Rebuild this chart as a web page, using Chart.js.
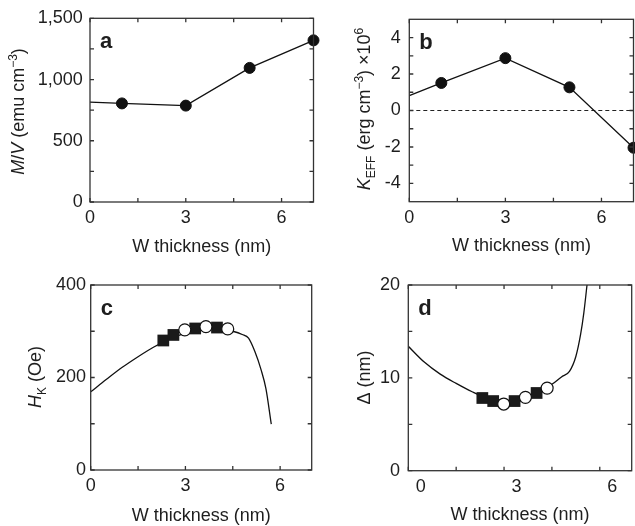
<!DOCTYPE html>
<html>
<head>
<meta charset="utf-8">
<script src="https://cdn.jsdelivr.net/npm/chart.js@4.4.1/dist/chart.umd.min.js"></script>
<style>
  html, body { margin: 0; padding: 0; background: #fff; width: 635px; height: 526px; overflow: hidden; position: relative; }
  canvas { position: absolute; }
</style>
</head>
<body>
<canvas id="panelA" width="320" height="265" style="left:0;top:0"></canvas>
<canvas id="panelB" width="320" height="265" style="left:320px;top:0"></canvas>
<canvas id="panelC" width="320" height="265" style="left:0;top:265px"></canvas>
<canvas id="panelD" width="320" height="265" style="left:320px;top:265px"></canvas>
<script>
// --- data ---
const thicknessA = [0, 1, 3, 5, 7];
const magnetization = [815, 805, 787, 1095, 1320];

const thicknessB = [0, 1, 3, 5, 7];
const anisotropy = [0.82, 1.51, 2.87, 1.27, -2.04];
const zeroLineX = [0, 7];
const zeroLineY = [0, 0];

const hkSquareX = [2.30, 2.62, 3.31, 4.00];
const hkSquare = [280, 292, 306, 308];
const hkCircleX = [2.98, 3.65, 4.34];
const hkCircle = [303, 310, 305];
const hkFitX = [0, 0.5, 1, 1.5, 2, 2.5, 3, 3.5, 4, 4.5, 4.8, 5.0, 5.2, 5.4, 5.55, 5.72];
const hkFit = [169, 196, 222, 245, 266, 283, 296, 304, 306, 300, 293, 285, 256, 216, 176, 99];

const deltaSquareX = [2.32, 2.66, 3.33, 4.02];
const deltaSquare = [7.83, 7.5, 7.5, 8.37];
const deltaCircleX = [2.99, 3.67, 4.35];
const deltaCircle = [7.18, 7.9, 8.9];
const deltaFitX = [0, 0.5, 1, 1.5, 2, 2.5, 3, 3.5, 4, 4.5, 4.8, 5.05, 5.25, 5.4, 5.5, 5.6];
const deltaFit = [13.4, 11.7, 10.4, 9.4, 8.5, 7.75, 7.35, 7.5, 8.1, 9.3, 10.1, 10.7, 12.3, 14.7, 17.0, 20.0];

// tick values
const xMajor = [0, 3, 6];
const xMinor = [1.5, 4.5];
const yTicksA = [0, 500, 1000, 1500];
const yMinorA = [250, 750, 1250];
const yTicksB = [-4, -2, 0, 2, 4];
const yMinorB = [-3, -1, 1, 3];
const yTicksC = [0, 200, 400];
const yMinorC = [100, 300];
const yTicksD = [0, 10, 20];
const yMinorD = [5, 15];

const FAMILY = '"Liberation Sans", Arial, Helvetica, sans-serif';
const INK = '#1e1e1e';
const tickFont = {family: FAMILY, size: 18};

function pts(xs, ys) {
  return xs.map((x, i) => ({x: x, y: ys[i]}));
}

// extra drawing per panel: frame, inward ticks, panel letter, rich y title
const decor = {
  panelA: {letter: 'a', yMinor: yMinorA, yMajor: yTicksA, titleX: 24, titleY: 111.5,
    title: [{t: 'M', it: 1}, {t: '/'}, {t: 'V', it: 1}, {t: ' (emu cm'}, {t: '\u22123', sup: 1}, {t: ')'}]},
  panelB: {letter: 'b', yMinor: yMinorB, yMajor: yTicksB, titleX: 50, titleY: 109,
    title: [{t: 'K', it: 1}, {t: 'EFF', sub: 1}, {t: ' (erg cm'}, {t: '\u22123', sup: 1}, {t: ') \u00d710'}, {t: '6', sup: 1}]},
  panelC: {letter: 'c', yMinor: yMinorC, yMajor: yTicksC, titleX: 40.5, titleY: 112,
    title: [{t: 'H', it: 1}, {t: 'K', sub: 1}, {t: ' (Oe)'}]},
  panelD: {letter: 'd', yMinor: yMinorD, yMajor: yTicksD, titleX: 50, titleY: 112.5,
    title: [{t: '\u0394 (nm)'}]}
};

function segFont(s) {
  const size = (s.sub || s.sup) ? 12 : 18;
  return (s.it ? 'italic ' : '') + size + 'px ' + FAMILY;
}

const framePlugin = {
  id: 'frame',
  afterDraw(chart) {
    const d = decor[chart.canvas.id];
    const {ctx, chartArea: a} = chart;
    const x = chart.scales.x, y = chart.scales.y;
    ctx.save();
    ctx.strokeStyle = '#333';
    ctx.lineWidth = 1.3;
    ctx.strokeRect(a.left, a.top, a.right - a.left, a.bottom - a.top);
    ctx.beginPath();
    xMajor.concat(xMinor).forEach(v => {
      const p = x.getPixelForValue(v);
      ctx.moveTo(p, a.bottom); ctx.lineTo(p, a.bottom - 4);
      ctx.moveTo(p, a.top); ctx.lineTo(p, a.top + 4);
    });
    d.yMajor.concat(d.yMinor).forEach(v => {
      const p = y.getPixelForValue(v);
      ctx.moveTo(a.left, p); ctx.lineTo(a.left + 4, p);
      ctx.moveTo(a.right, p); ctx.lineTo(a.right - 4, p);
    });
    ctx.stroke();

    // panel letter
    ctx.fillStyle = INK;
    ctx.font = 'bold 22px ' + FAMILY;
    ctx.textBaseline = 'alphabetic';
    ctx.textAlign = 'left';
    ctx.fillText(d.letter, a.left + 10, a.top + 29.5);

    // rotated y title with sub/superscripts
    ctx.translate(d.titleX, d.titleY);
    ctx.rotate(-Math.PI / 2);
    const widths = d.title.map(s => { ctx.font = segFont(s); return ctx.measureText(s.t).width; });
    let px = -widths.reduce((p, w) => p + w, 0) / 2;
    d.title.forEach((s, i) => {
      ctx.font = segFont(s);
      ctx.fillText(s.t, px, s.sub ? 5 : (s.sup ? -7 : 0));
      px += widths[i];
    });
    ctx.restore();
  }
};

function xScale(o) {
  return {
    type: 'linear', min: 0, max: 7,
    grid: {display: false, drawTicks: false}, border: {display: false},
    afterBuildTicks: s => { s.ticks = xMajor.map(v => ({value: v})); },
    afterFit: s => { s.height = o.height; },
    ticks: {font: tickFont, color: INK, padding: 5.7, labelOffset: o.labelOffset || 0, maxRotation: 0, autoSkip: false},
    title: {display: true, text: 'W thickness (nm)', font: tickFont, color: INK, padding: {top: 0, bottom: o.titlePad}}
  };
}

function yScale(o) {
  return {
    type: 'linear', min: o.min, max: o.max,
    grid: {display: false, drawTicks: false}, border: {display: false},
    afterBuildTicks: s => { s.ticks = o.ticks.map(v => ({value: v})); },
    afterFit: s => { s.width = o.width; },
    ticks: {font: tickFont, color: INK, padding: o.pad, autoSkip: false, callback: o.fmt}
  };
}

function makeChart(id, datasets, scales, padding) {
  return new Chart(document.getElementById(id), {
    type: 'scatter',
    data: {datasets: datasets},
    options: {
      responsive: false, animation: false, devicePixelRatio: 1, events: [],
      layout: {padding: padding},
      plugins: {legend: {display: false}, tooltip: {enabled: false}},
      scales: scales
    },
    plugins: [framePlugin]
  });
}

const dashFmt = v => v < 0 ? '-' + (-v) : String(v);

// a
makeChart('panelA', [{
  data: pts(thicknessA, magnetization), showLine: true, clip: false,
  borderColor: '#111', borderWidth: 1.3,
  pointRadius: [0, 5.5, 5.5, 5.5, 5.5], pointBackgroundColor: '#111', pointBorderColor: '#111', pointBorderWidth: 1
}], {
  x: xScale({height: 63, titlePad: 7.5}),
  y: yScale({min: 0, max: 1500, ticks: yTicksA, width: 90, pad: 7.3, fmt: v => v.toLocaleString('en-US')})
}, {top: 18.3, right: 3.4, left: 0, bottom: 0});

// b
makeChart('panelB', [{
  data: pts(thicknessB, anisotropy), showLine: true, clip: false,
  borderColor: '#111', borderWidth: 1.3,
  pointRadius: [0, 5.5, 5.5, 5.5, 5.5], pointBackgroundColor: '#111', pointBorderColor: '#111', pointBorderWidth: 1
}, {
  data: pts(zeroLineX, zeroLineY), showLine: true, pointRadius: 0,
  borderColor: '#222', borderWidth: 1.2, borderDash: [4, 3]
}], {
  x: xScale({height: 63.3, titlePad: 8.2}),
  y: yScale({min: -5, max: 5, ticks: yTicksB, width: 89.3, pad: 8.5, fmt: dashFmt})
}, {top: 18.3, right: 4, left: 0, bottom: 0});

// c
makeChart('panelC', [{
  data: pts(hkCircleX, hkCircle), order: 0, clip: false,
  pointStyle: 'circle', pointRadius: 6, pointBackgroundColor: '#fff', pointBorderColor: '#111', pointBorderWidth: 1.2
}, {
  data: pts(hkSquareX, hkSquare), order: 1, clip: false,
  pointStyle: 'rect', pointRadius: 8.3, pointBackgroundColor: '#1a1a1a', pointBorderColor: '#1a1a1a', pointBorderWidth: 0
}, {
  data: pts(hkFitX, hkFit), order: 2, showLine: true, pointRadius: 0,
  borderColor: '#111', borderWidth: 1.3, cubicInterpolationMode: 'monotone'
}], {
  x: xScale({height: 60, titlePad: 3.5}),
  y: yScale({min: 0, max: 400, ticks: yTicksC, width: 90.7, pad: 4.7})
}, {top: 20, right: 2.7, left: 0, bottom: 0});

// d
makeChart('panelD', [{
  data: pts(deltaCircleX, deltaCircle), order: 0, clip: false,
  pointStyle: 'circle', pointRadius: 6, pointBackgroundColor: '#fff', pointBorderColor: '#111', pointBorderWidth: 1.2
}, {
  data: pts(deltaSquareX, deltaSquare), order: 1, clip: false,
  pointStyle: 'rect', pointRadius: 8.3, pointBackgroundColor: '#1a1a1a', pointBorderColor: '#1a1a1a', pointBorderWidth: 0
}, {
  data: pts(deltaFitX, deltaFit), order: 2, showLine: true, pointRadius: 0,
  borderColor: '#111', borderWidth: 1.3, cubicInterpolationMode: 'monotone'
}], {
  x: xScale({height: 59.3, titlePad: 4.2, labelOffset: 12.5}),
  y: yScale({min: 0, max: 20, ticks: yTicksD, width: 88.3, pad: 8.3})
}, {top: 20, right: 4, left: 0, bottom: 0});
</script>
</body>
</html>
